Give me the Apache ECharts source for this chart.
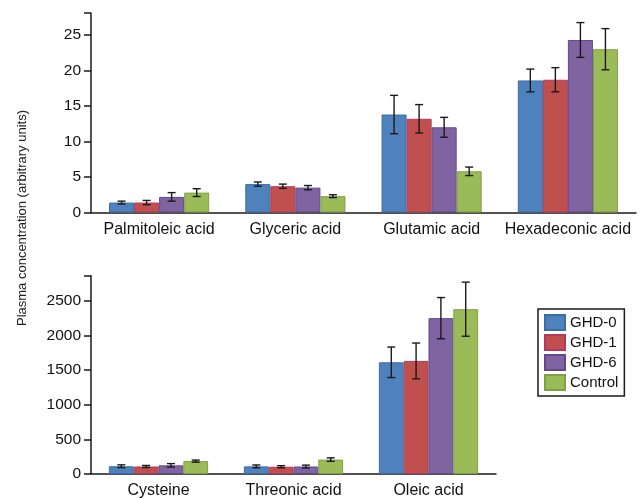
<!DOCTYPE html>
<html><head><meta charset="utf-8">
<script src="https://cdn.jsdelivr.net/npm/echarts@6/dist/echarts.min.js"></script>
<style>html,body{margin:0;padding:0;background:#fff}#c{width:641px;height:499px}</style>
</head><body><div id="c"></div>
<script>
const seriesNames = ['GHD-0','GHD-1','GHD-6','Control'];
const topCategories = ['Palmitoleic acid','Glyceric acid','Glutamic acid','Hexadeconic acid'];
const topGHD0 = [1.4, 4.0, 13.8, 18.6];
const topGHD1 = [1.4, 3.7, 13.2, 18.7];
const topGHD6 = [2.2, 3.5, 12.0, 24.3];
const topControl = [2.8, 2.3, 5.8, 23.0];
const topErrGHD0 = [0.2, 0.3, 2.7, 1.6];
const topErrGHD1 = [0.3, 0.3, 2.0, 1.7];
const topErrGHD6 = [0.6, 0.3, 1.4, 2.45];
const topErrControl = [0.55, 0.2, 0.6, 2.9];
const bottomCategories = ['Cysteine','Threonic acid','Oleic acid'];
const botGHD0 = [112, 110, 1611];
const botGHD1 = [108, 105, 1631];
const botGHD6 = [125, 108, 2248];
const botControl = [186, 208, 2377];
const botErrGHD0 = [20, 20, 220];
const botErrGHD1 = [15, 15, 258];
const botErrGHD6 = [25, 20, 297];
const botErrControl = [15, 25, 390];
const topTicks = [0, 5, 10, 15, 20, 25];
const botTicks = [0, 500, 1000, 1500, 2000, 2500];

const colors = ['#4F81BD','#C0504D','#8064A2','#9BBB59'];
const borders = ['#3C6DA6','#B2385F','#62498A','#7FA044'];
const gapFrac = 0.265;
const font = 'Liberation Sans, Arial, sans-serif';

const topVals = [topGHD0, topGHD1, topGHD6, topControl];
const topErrs = [topErrGHD0, topErrGHD1, topErrGHD6, topErrControl];
const botVals = [botGHD0, botGHD1, botGHD6, botControl];
const botErrs = [botErrGHD0, botErrGHD1, botErrGHD6, botErrControl];

function errSeries(idx, vals, errs, axisIdx) {
  return {
    type: 'custom', name: 'err' + idx + '_' + axisIdx,
    xAxisIndex: axisIdx, yAxisIndex: axisIdx, z: 10,
    data: vals.map((v, i) => [i, v, errs[i]]),
    encode: { x: 0, y: [1] },
    renderItem: function (params, api) {
      const c = api.value(0), v = api.value(1), e = api.value(2);
      const band = api.size([1, 0])[0];
      const bw = band * (1 - gapFrac) / 4;
      const hi = api.coord([c, v + e]);
      const lo = api.coord([c, v - e]);
      const x = hi[0] + (idx - 1.5) * bw;
      const cap = 4;
      const st = { stroke: '#1a1a1a', lineWidth: 1.4 };
      return { type: 'group', children: [
        { type: 'line', shape: { x1: x, y1: hi[1], x2: x, y2: lo[1] }, style: st },
        { type: 'line', shape: { x1: x - cap, y1: hi[1], x2: x + cap, y2: hi[1] }, style: st },
        { type: 'line', shape: { x1: x - cap, y1: lo[1], x2: x + cap, y2: lo[1] }, style: st }
      ]};
    }
  };
}

const series = [];
[0, 1].forEach(ax => {
  const vals = ax === 0 ? topVals : botVals;
  vals.forEach((arr, i) => {
    series.push({
      type: 'bar', name: seriesNames[i], xAxisIndex: ax, yAxisIndex: ax,
      data: arr, barGap: '0%', barCategoryGap: (gapFrac * 100) + '%',
      itemStyle: { color: colors[i], borderColor: borders[i], borderWidth: 1 }
    });
  });
});
[0, 1].forEach(ax => {
  const vals = ax === 0 ? topVals : botVals;
  const errs = ax === 0 ? topErrs : botErrs;
  vals.forEach((arr, i) => series.push(errSeries(i, arr, errs[i], ax)));
});

const axisLineStyle = { show: true, lineStyle: { color: '#1a1a1a', width: 1.5 } };
function xAx(grid, cats) {
  return { type: 'category', gridIndex: grid, data: cats,
    axisLine: axisLineStyle, axisTick: { show: false },
    axisLabel: { color: '#111', fontSize: 16, fontFamily: font, margin: 9, interval: 0 } };
}
function yAx(grid, max, ticks) {
  return { type: 'value', gridIndex: grid, min: 0, max: max, interval: ticks[1] - ticks[0],
    axisLine: axisLineStyle, axisTick: { show: true, inside: false, length: 7, lineStyle: { color: '#1a1a1a', width: 1.5 } },
    splitLine: { show: false },
    axisLabel: { color: '#111', fontSize: 15.5, fontFamily: font, margin: 10,
      customValues: ticks, formatter: v => ticks.indexOf(v) >= 0 ? String(v) : '' } };
}

const chart = echarts.init(document.getElementById('c'));
chart.setOption({
  animation: false,
  color: colors,
  grid: [
    { left: 91, top: 13, width: 545, height: 199.5 },
    { left: 91, top: 275.7, width: 405, height: 199.3 }
  ],
  xAxis: [xAx(0, topCategories), xAx(1, bottomCategories)],
  yAxis: [yAx(0, 28.1, topTicks), yAx(1, 2860, botTicks)],
  legend: {
    data: seriesNames, orient: 'vertical', left: 538, top: 309,
    itemWidth: 20, itemHeight: 15, itemGap: 3, padding: [5, 6, 5, 6],
    borderColor: '#1a1a1a', borderWidth: 1.5, backgroundColor: '#fff',
    icon: 'rect',
    textStyle: { color: '#111', fontSize: 15, lineHeight: 15, fontFamily: font }
  },
  graphic: [{
    type: 'text', left: 16, top: 110, rotation: Math.PI / 2,
    style: { text: 'Plasma concentration (arbitrary units)', fill: '#222', font: '13px ' + font }
  }],
  series: series
});
</script></body></html>
